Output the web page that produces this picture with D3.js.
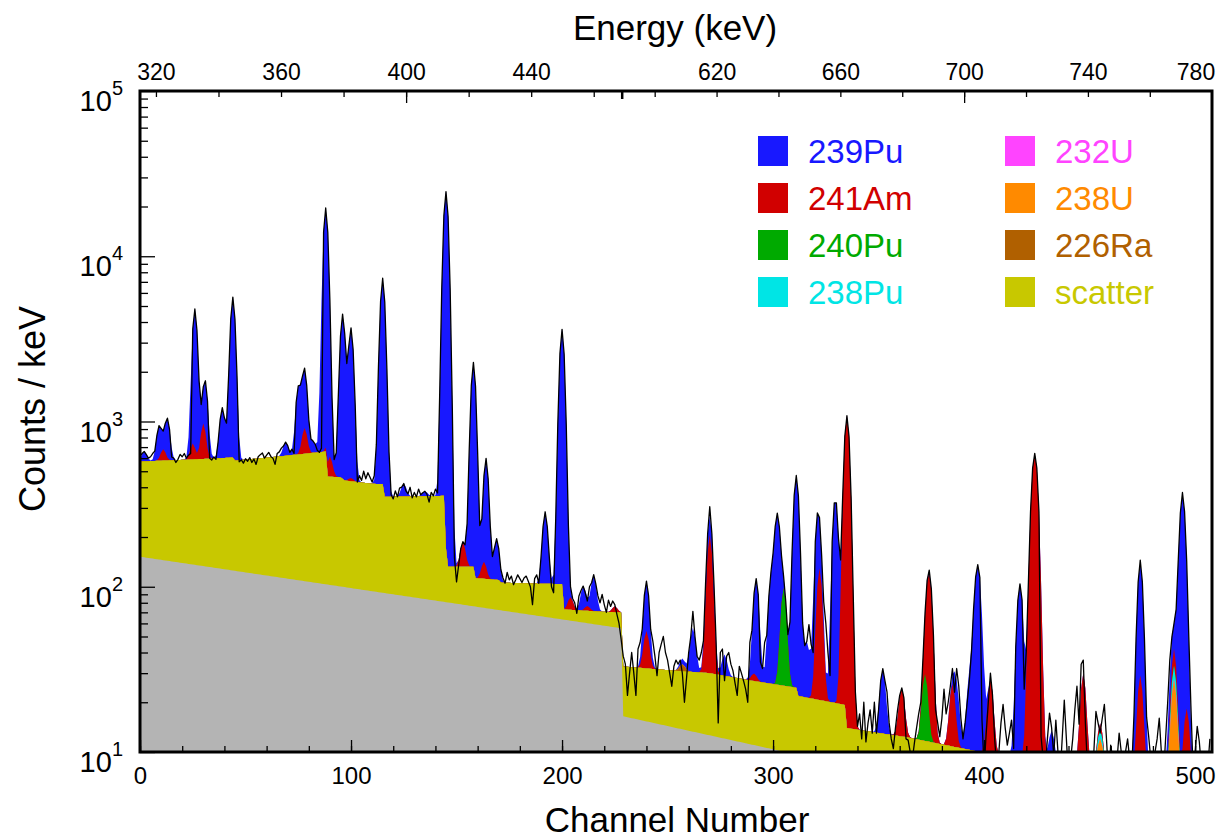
<!DOCTYPE html>
<html>
<head>
<meta charset="utf-8">
<script src="https://cdn.jsdelivr.net/npm/d3@7"></script>
<style>
body { margin: 0; background: #fff; }
text { font-family: "Liberation Sans", Arial, Helvetica, sans-serif; }
</style>
</head>
<body>
<div id="svgdiv"></div>
<script>
// ---- values ----
const nChannels = 508;

// continuum under everything (grey), [channel, counts/keV], straight in log space between knots
const backgroundKnots = [[0,152],[228.5,56],[228.5,16.5],[508,2.7]];

// scatter continuum on top of the grey, steps at the big lines
const scatterKnots = [[0,421],[44,480],[45,455],[88,555],[89,361],[95,360],[97,340],[110,326],[115,326],
  [116,259],[144,274],[145.5,51.5],[158,56],[159,37],[170,37.6],[171,34],[200,40.5],[201,9.8],[228,13.8],
  [228.5,16.5],[270,17.4],[290,15.9],[311,14.8],[312,12.2],[334,10.95],[334.5,5.7],[363,5.4],[398,4.5],[508,3.3]];

// line components: [channel, height above the layers below, optional width]
const pu239Peaks = [[2,85],[9,340],[13,440],[26,4100],[31,900],[39,610],[44,5050],[69,130],[75,950],[78,1150],
  [82,110],[88,18900],[96,4000],[100,3220],[115,6940],[125,70],[135,25],[145,24450],[158,2150],[164,465],
  [169,85],[192,180],[200,3510],[210,28],[215,47],[240,54],[257,3],[262,26],[270,65],[277,10],[292,83],
  [299,80],[302,243],[311,447],[316,25],[321,178],[329.5,325],[352,19],[374,4],[387,12],[393,16],[397,126,1.6],
  [417,95,1.4],[432,5],[474,112],[489,16],[494,348,1.4]];
const am241Peaks = [[11,100],[25,145],[30,380],[78,275],[90,150],[100,20],[153,55],[163,30],[204,14],[212,5],
  [225,6],[240,22],[270,176],[291,3],[322,109],[335,1070],[361,12],[374,105,1.4],[385,15],[403,18],[424,632,1.55],
  [447,22],[455,1.3],[474,22],[490,9],[496,12]];
const pu240Peaks = [[305,73],[372,18]];
const pu238Peaks = [[455,1.6],[490,5.7]];
const u232Peaks = [];
const u238Peaks = [[455,4.4],[490,21]];
const ra226Peaks = [[257,3]];
// default line width (sigma, channels) below / above the break
const peakSigma = [1.2, 1.3];

// measured spectrum where it leaves the fitted sum: [channel, counts/keV]
const measuredReadings = [[0,617],[1,640],[3,630],[4,600],[5,612],[6,640],[15,610],[16,600],[17,565],[18,590],
  [19,632],[20,612],[21,640],[22,600],[23,625],[24,640],[33,600],[34,585],[35,610],[36,590],[47,570],[48,585],
  [49,560],[50,595],[51,575],[52,605],[53,565],[54,592],[55,550],[56,612],[57,630],[58,645],[59,600],[60,625],
  [61,650],[62,615],[63,600],[64,550],[65,640],[66,655],[67,690],[71,650],[72,680],[73,640],[84,670],[85,650],
  [86,690],[103,430],[104,470],[105,440],[106,500],[107,450],[108,490],[109,460],[110,430],[111,470],
  [119,360],[120,340],[121,380],[122,350],[123,395],[126,380],[127,365],[128,400],[129,345],[130,372],[131,350],
  [132,390],[133,360],[136,362],[137,325],[138,372],[139,355],[140,390],[141,370],[149,150],[150,107],[151,135],
  [152,170],[172,113],[173,105],[174,122],[175,110],[176,116],[177,103],[178,110],[179,118],[180,112],[181,106],
  [182,113],[183,116],[184,108],[185,100],[186,78],[187,112],[188,118],[189,105],[195,100],[196,92],[205,85],
  [206,80],[207,69],[208,88],[209,95],[211,92],[212,82],[213,100],[217,88],[218,80],[219,90],[220,78],[221,70],
  [222,83],[223,76],[224,82],[225,78],[226,68],[227,60],[228,48],[229,38],[230,34],[231,22],[232,30],[233,40],
  [234,30],[235,22],[236,42],[237,46],[243,47],[244,38],[245,29],[246,40],[247,45],[248,50],[249,40],[250,36],
  [251,30],[252,25],[253,33],[254,36],[255,34],[256,36],[257,30],[258,20],[259,28],[260,40],[262,71],[264,38],
  [265,36],[266,40],[270,305],[274,15],[275,40],[276,42],[277,27],[278,38],[279,40],[280,34],[281,31],[282,26],
  [283,22],[284,33],[285,30],[286,27],[287,24],[288,20],[289,46],[294,35],[295,32],[296,46],[317,59],[318,45],
  [319,40],[324,81],[325,60],[326,40],[327,29],[341,17],[342,12],[343,20],[344,11.5],[345,15],[346,18],[347,13],
  [348,20],[349,13],[350,18],[351,27],[354,23],[355,15],[356,12],[357,10.5],[358,14],[359,18],[360,22],[363,12],
  [364,11.8],[365,10],[366,9],[367,11.4],[368,14],[369,17],[370,20],[377,18],[378,15],[379,12.4],[380,16],
  [381,24],[382,17],[383,20],[384,25],[385,32],[386,23],[387,32],[388,25],[389,16],[390,12],[391,15],[392,20],
  [393,27],[394,40],[399,15.6],[400,8],[401,13],[402,20],[403,30],[404,22],[405,12],[406,8],[407,10],[408,15],
  [409,19.4],[410,14],[411,11],[412,13],[413,15.6],[414,10.5],[419,24],[427,12.4],[428,9],[429,8],[430,12],
  [431,17.2],[432,14],[433,9.5],[434,15.6],[435,10],[436,7],[437,12],[438,20.6],[439,12],[440,7],[441,9],
  [442,12],[443,18],[444,25],[446,34],[447,36],[448,15],[449,8],[450,9],[451,7],[452,10],[453,17.6],[454,15],
  [455,13],[456,16],[457,19.4],[458,12],[459,7],[460,11],[461,9],[462,7],[463,9],[464,13],[465,10],[466,8],
  [467,10],[468,12],[469,9],[470,8],[474,145],[478,12.4],[479,9],[480,8],[481,10],[482,12],[483,16],[484,10],
  [485,7],[486,12],[487,20],[488,36],[494,372],[498,19],[499,8],[500,10],[501,14.3],[502,11.5],[503,8],[504,7],
  [505,9],[506,8],[507,12]];

// top axis: channel -> energy calibration (two pieces, gap at the break)
const breakChannel = 228.5;
const energyCal = [314.9, 469.1, 589.5, 780.1];
const energyTicks = [320,340,360,380,400,420,440,460,600,620,640,660,680,700,720,740,760,780];
const energyLabels = [320,360,400,440,620,660,700,740,780];
const energyLongTicks = [400,700];

const channelLabels = [0,100,200,300,400,500];
const channelMinor = d3.range(0, 508, 20);
const decades = [10,100,1000,10000,100000];

// legend order (two columns)
const legendLeft = ["239Pu","241Am","240Pu","238Pu"];
const legendRight = ["232U","238U","226Ra","scatter"];

// ---- layers, bottom to top ----
let layers = [
  {key: "background", color: "#b4b4b4", knots: backgroundKnots},
  {key: "scatter", color: "#c8c800", knots: scatterKnots},
  {key: "226Ra", color: "#b06000", peaks: ra226Peaks},
  {key: "238U", color: "#ff8a00", peaks: u238Peaks},
  {key: "232U", color: "#ff44ff", peaks: u232Peaks},
  {key: "238Pu", color: "#00e5e5", peaks: pu238Peaks},
  {key: "240Pu", color: "#00aa00", peaks: pu240Peaks},
  {key: "241Am", color: "#d10000", peaks: am241Peaks},
  {key: "239Pu", color: "#1818ff", peaks: pu239Peaks}
];
let colorOf = {};
layers.forEach(l => colorOf[l.key] = l.color);

function knotValue(knots, c) {
  for (let i = 0; i < knots.length - 1; ++i) {
    let a = knots[i], b = knots[i + 1];
    if (b[0] > a[0] && c >= a[0] && c <= b[0]) {
      let t = (c - a[0]) / (b[0] - a[0]);
      return Math.exp(Math.log(a[1]) + t * (Math.log(b[1]) - Math.log(a[1])));
    }
  }
  return knots[knots.length - 1][1];
}

function peakValue(peaks, c) {
  let s = 0;
  peaks.forEach(p => {
    let sg = p[2] || (p[0] < breakChannel ? peakSigma[0] : peakSigma[1]);
    s += p[1] * Math.exp(-(c - p[0]) * (c - p[0]) / (2 * sg * sg));
  });
  return s;
}

let rows = d3.range(0, nChannels).map(function(c) {
  let r = {ch: c};
  layers.forEach(l => {
    r[l.key] = l.knots ? knotValue(l.knots, c) : peakValue(l.peaks, c);
  });
  return r;
});

let stacked = d3.stack().keys(layers.map(l => l.key))(rows);

let readings = new Map(measuredReadings.map(d => [d[0], d[1]]));
let measured = stacked[stacked.length - 1].map(function(d) {
  let c = d.data.ch;
  return {ch: c, v: readings.has(c) ? readings.get(c) : d[1]};
});

// ---- drawing ----
var width = 1224, height = 839;
var pLeft = 140, pRight = 1212, pTop = 91, pBottom = 752;

let svg = d3.select("#svgdiv").append("svg")
    .attr("width", width)
    .attr("height", height);

let x = d3.scaleLinear().domain([0, nChannels]).range([pLeft, pRight]);
let y = d3.scaleLog().domain([10, 1e5]).range([pBottom, pTop]);
let xe = d3.scaleLinear().domain(energyCal)
    .range([pLeft, x(breakChannel), x(breakChannel), pRight]);

svg.append("clipPath").attr("id", "plotclip")
   .append("rect")
   .attr("x", pLeft).attr("y", pTop)
   .attr("width", pRight - pLeft).attr("height", pBottom - pTop);

let plot = svg.append("g").attr("clip-path", "url(#plotclip)");

// paint from the top layer down, each filled from the floor up to its cumulative top
let area = d3.area()
    .x(d => x(d.data.ch))
    .y0(y(1))
    .y1(d => y(Math.max(d[1], 1)));

for (let i = stacked.length - 1; i >= 0; --i) {
  plot.append("path")
      .datum(stacked[i])
      .attr("fill", colorOf[stacked[i].key])
      .attr("d", area);
}

plot.append("path")
    .datum(measured)
    .attr("fill", "none")
    .attr("stroke", "#000")
    .attr("stroke-width", 1.3)
    .attr("stroke-linejoin", "round")
    .attr("d", d3.line().x(d => x(d.ch)).y(d => y(Math.max(d.v, 1))));

function styleLabels(g, size) {
  g.selectAll("text")
   .attr("font-size", size).attr("fill", "#000")
   .attr("font-family", "Liberation Sans, Arial, sans-serif");
}

// bottom axis
svg.append("g")
   .attr("transform", "translate(0," + pBottom + ")")
   .call(d3.axisBottom(x).tickValues(channelMinor).tickSize(-6).tickFormat(""))
   .call(g => g.select(".domain").remove());
svg.append("g")
   .attr("transform", "translate(0," + pBottom + ")")
   .call(d3.axisBottom(x).tickValues(channelLabels).tickSize(-12).tickPadding(15).tickFormat(d3.format("d")))
   .call(g => g.select(".domain").remove())
   .call(g => styleLabels(g, 24));

// top axis (energy)
svg.append("g")
   .attr("transform", "translate(0," + pTop + ")")
   .call(d3.axisTop(xe).tickValues(energyTicks).tickSize(-6).tickFormat(""))
   .call(g => g.select(".domain").remove());
svg.append("g")
   .attr("transform", "translate(0," + pTop + ")")
   .call(d3.axisTop(xe).tickValues(energyLongTicks).tickSize(-12).tickFormat(""))
   .call(g => g.select(".domain").remove());
svg.append("g")
   .attr("transform", "translate(0," + pTop + ")")
   .call(d3.axisTop(xe).tickValues(energyLabels).tickSize(0).tickPadding(11).tickFormat(d3.format("d")))
   .call(g => g.select(".domain").remove())
   .call(g => styleLabels(g, 23))
   .call(g => g.selectAll(".tick text").filter(d => d === 780).attr("text-anchor", "end").attr("dx", 3));
svg.append("line")
   .attr("x1", x(breakChannel)).attr("x2", x(breakChannel))
   .attr("y1", pTop).attr("y2", pTop + 8)
   .attr("stroke", "#000").attr("stroke-width", 2.5);

// left axis (log)
let minorY = [];
decades.slice(0, -1).forEach(d => { for (let k = 2; k <= 9; ++k) minorY.push(d * k); });
svg.append("g")
   .attr("transform", "translate(" + pLeft + ",0)")
   .call(d3.axisLeft(y).tickValues(minorY).tickSize(-8).tickFormat(""))
   .call(g => g.select(".domain").remove());
let yax = svg.append("g")
   .attr("transform", "translate(" + pLeft + ",0)")
   .call(d3.axisLeft(y).tickValues(decades).tickSize(-15).tickPadding(17).tickFormat(""))
   .call(g => g.select(".domain").remove());
yax.selectAll(".tick text")
   .attr("font-size", 29).attr("fill", "#000").attr("dy", "0.68em")
   .attr("font-family", "Liberation Sans, Arial, sans-serif")
   .each(function(d) {
     let t = d3.select(this);
     t.append("tspan").text("10");
     t.append("tspan").text(Math.round(Math.log10(d))).attr("font-size", 20).attr("dy", "-0.8em");
   });

svg.selectAll(".tick line").attr("stroke", "#000").attr("stroke-width", 1.3);

// frame
svg.append("rect")
   .attr("x", pLeft).attr("y", pTop)
   .attr("width", pRight - pLeft).attr("height", pBottom - pTop)
   .attr("fill", "none").attr("stroke", "#000").attr("stroke-width", 3);

// titles
svg.append("text").text("Energy (keV)")
   .attr("x", 675).attr("y", 40).attr("text-anchor", "middle").attr("font-size", 35);
svg.append("text").text("Channel Number")
   .attr("x", 677).attr("y", 832).attr("text-anchor", "middle").attr("font-size", 35);
svg.append("text").text("Counts / keV")
   .attr("transform", "translate(45,409) rotate(-90)")
   .attr("text-anchor", "middle").attr("font-size", 36);

// legend
function legendColumn(names, sx) {
  names.forEach(function(n, i) {
    let cy = 151 + i * 47;
    svg.append("rect")
       .attr("x", sx).attr("y", cy - 15)
       .attr("width", 30).attr("height", 30)
       .attr("fill", colorOf[n]);
    svg.append("text").text(n)
       .attr("x", sx + 50).attr("y", cy + 12)
       .attr("font-size", 33)
       .attr("fill", colorOf[n]);
  });
}
legendColumn(legendLeft, 758);
legendColumn(legendRight, 1005);
</script>
</body>
</html>
